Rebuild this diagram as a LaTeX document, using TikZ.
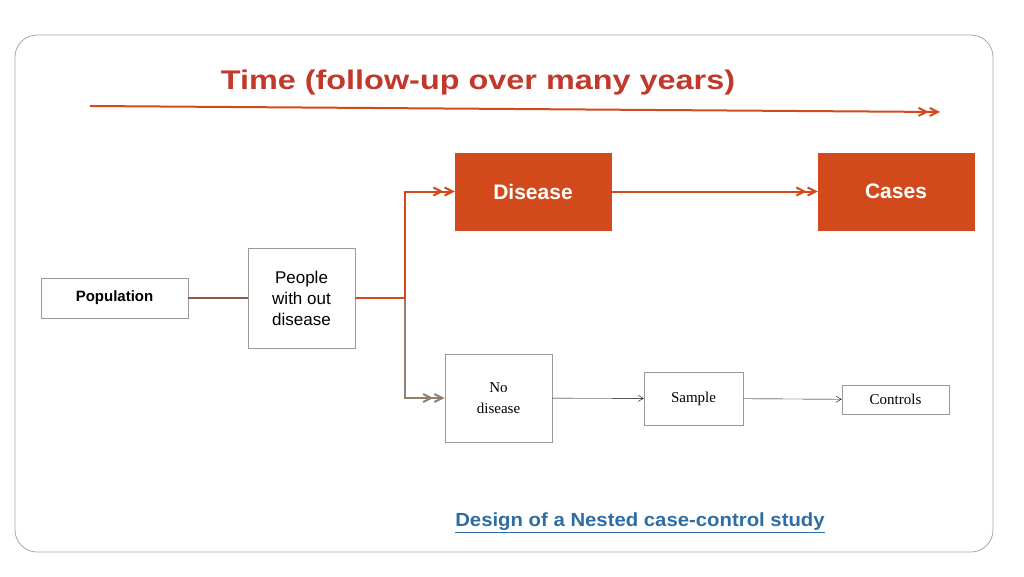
\documentclass[tikz,border=0pt]{standalone}
\usepackage{fontspec}
\setmainfont{Liberation Sans}
\newfontfamily\serf{Liberation Serif}
\usetikzlibrary{arrows.meta}
\definecolor{ored}{HTML}{D24A1B}
\definecolor{tred}{HTML}{C0392B}
\definecolor{lnk}{HTML}{2E6DA4}
\definecolor{brn}{HTML}{8E5A4E}
\begin{document}
\begin{tikzpicture}[x=1pt,y=-1pt,
  sbox/.style={draw=gray!80,thick,fill=white,inner sep=0pt},
  obox/.style={draw=ored,fill=ored,text=white,font=\bfseries\fontsize{21}{23}\selectfont,inner sep=0pt},
  fat/.style={line width=2pt,-{Straight Barb[length=8pt,width=8pt] Straight Barb[length=8pt,width=8pt]}},
  thin/.style={-{Straight Barb[length=5pt,width=6pt]}}]
\useasboundingbox (0,0) rectangle (1024,576);
\draw[gray!70,thick,rounded corners=22pt] (15,35) rectangle (993,552);
\node[text=tred,font=\bfseries\fontsize{27}{29}\selectfont,xscale=1.2] (time) at (478,83) {Time (follow-up over many years)};
\coordinate (t1) at (90,106); \coordinate (t2) at (940,112);
\draw[fat,ored] (t1) -- (t2);
\node[sbox,minimum width=147pt,minimum height=40pt,font=\bfseries\fontsize{15}{17}\selectfont] (pop) at (114.5,298) {Population};
\node[sbox,minimum width=107pt,minimum height=100pt,align=center,font=\fontsize{17}{21}\selectfont] (ppl) at (301.5,298) {People\\with out\\disease};
\node[obox,minimum width=156pt,minimum height=77pt] (dis) at (533,191.5) {Disease};
\node[obox,minimum width=156pt,minimum height=77pt] (cas) at (896,191.5) {Cases};
\node[sbox,minimum width=107pt,minimum height=88pt,align=center,font=\serf\fontsize{15}{21}\selectfont] (nod) at (498.5,398) {No\\disease};
\node[sbox,minimum width=99pt,minimum height=53pt,font=\serf\fontsize{15}{17}\selectfont] (smp) at (693.5,398.5) {Sample};
\node[sbox,minimum width=107pt,minimum height=29pt,font=\serf\fontsize{15}{17}\selectfont] (ctl) at (895.5,399.5) {Controls};
\node[text=lnk,font=\bfseries\fontsize{19}{21}\selectfont,xscale=1.07] (ttl) at (640,523) {\underline{Design of a Nested case-control study}};
\draw[brn,line width=2pt] (pop) -- (ppl);
\coordinate (b) at (405,298);
\draw[gray!70!brown,line width=2pt,-{Straight Barb[length=8pt,width=8pt] Straight Barb[length=8pt,width=8pt]}] (ppl.east) -- (b) |- (nod.west);
\draw[ored,line width=2pt,-{Straight Barb[length=8pt,width=8pt] Straight Barb[length=8pt,width=8pt]}] (ppl.east) -- (b) |- (dis.west);
\draw[ored,line width=2pt,-{Straight Barb[length=8pt,width=8pt] Straight Barb[length=8pt,width=8pt]}] (dis) -- (cas);
\draw[thin] (nod) -- (smp);
\draw[thin] (smp) -- (ctl);
\end{tikzpicture}
\end{document}
